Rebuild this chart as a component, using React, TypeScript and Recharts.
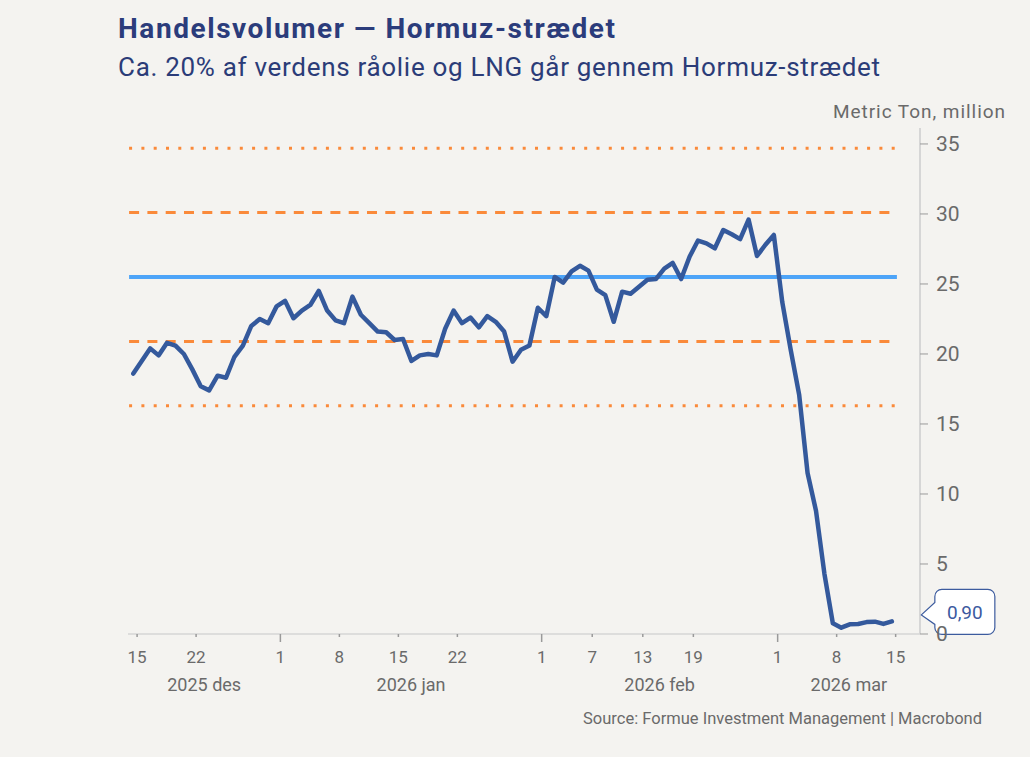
import React from 'react';
import {
  LineChart,
  Line,
  XAxis,
  YAxis,
  ReferenceLine,
  ReferenceDot,
} from 'recharts';

// daily volume, 15 Dec 2025 -> 15 Mar 2026 (metric ton, million)
const VOLUME = [
  18.6, 19.5, 20.4, 19.9, 20.8, 20.6, 20.0, 18.9, 17.7, 17.4,
  18.45, 18.3, 19.8, 20.6, 22.0, 22.5, 22.2, 23.4, 23.8, 22.55,
  23.1, 23.5, 24.5, 23.1, 22.4, 22.2, 24.1, 22.8, 22.2, 21.6,
  21.55, 21.0, 21.07, 19.5, 19.9, 20.0, 19.9, 21.8, 23.1, 22.2,
  22.6, 21.9, 22.7, 22.3, 21.6, 19.45, 20.3, 20.6, 23.3, 22.7,
  25.5, 25.1, 25.9, 26.3, 25.95, 24.6, 24.2, 22.3, 24.45, 24.3,
  24.8, 25.3, 25.35, 26.1, 26.5, 25.35, 26.95, 28.1, 27.9, 27.55,
  28.85, 28.55, 28.2, 29.6, 27.0, 27.8, 28.5, 23.7, 20.3, 17.1,
  11.5, 8.8, 4.3, 0.76, 0.45, 0.69, 0.71, 0.85, 0.88, 0.72,
  0.9,
];

// mean and +-1 / +-2 std dev bands
const MEAN = 25.5;
const SD1 = [20.9, 30.1];
const SD2 = [16.3, 34.7];

// x ticks: day index from 15 Dec
const DAY_TICKS = [0, 7, 17, 24, 31, 38, 48, 54, 60, 66, 76, 83, 90];
const DAY_LABELS = ['15', '22', '1', '8', '15', '22', '1', '7', '13', '19', '1', '8', '15'];
const MONTH_STARTS = [0, 17, 48, 76];
const MONTH_LABELS = ['2025 des', '2026 jan', '2026 feb', '2026 mar'];

const Y_TICKS = [0, 5, 10, 15, 20, 25, 30, 35];

const LAST_LABEL = '0,90';

const FONT = "Roboto, 'Noto Sans', sans-serif";
const BG = '#f4f3f0';
const NAVY = '#34599c';
const GREY = '#6a6a6a';
const ORANGE = '#fa8a3a';

const X_MIN = -0.63;
const X_MAX = 93.34;
const SHIFT = 0.45;

const data = VOLUME.map((v, i) => ({ i, v }));
const dayTickValues = DAY_TICKS.map((d) => d + SHIFT);
const monthBounds = MONTH_STARTS.map((d, k) => {
  const a = k === 0 ? X_MIN : d + SHIFT;
  const b = k + 1 < MONTH_STARTS.length ? MONTH_STARTS[k + 1] + SHIFT : X_MAX;
  return (a + b) / 2;
});

function DayTick(props: any) {
  const { x, y, index } = props;
  const monthStart = MONTH_STARTS.includes(DAY_TICKS[index]) && DAY_TICKS[index] !== 0;
  return (
    <g>
      <line x1={x} x2={x} y1={y} y2={y + (monthStart ? 8 : 3)} stroke="#9a9a9a" strokeWidth={1.5} />
      <text x={x} y={y + 29} textAnchor="middle" fontSize={17} fill={GREY} fontFamily={FONT}>
        {DAY_LABELS[index]}
      </text>
    </g>
  );
}

function MonthTick(props: any) {
  const { x, y, index } = props;
  return (
    <text x={x} y={y + 21} textAnchor="middle" fontSize={18} fill={GREY} fontFamily={FONT}>
      {MONTH_LABELS[index]}
    </text>
  );
}

function Callout(props: any) {
  const { cx, cy } = props;
  const L = cx + 43;
  const R = L + 60;
  const T = cy - 32;
  const B = T + 45;
  const r = 7;
  const d = [
    `M${L + r},${T}`,
    `H${R - r}`,
    `A${r},${r} 0 0 1 ${R},${T + r}`,
    `V${B - r}`,
    `A${r},${r} 0 0 1 ${R - r},${B}`,
    `H${L + r}`,
    `A${r},${r} 0 0 1 ${L},${B - r}`,
    `V${cy + 3}`,
    `L${cx + 29.5},${cy - 6.5}`,
    `L${L},${cy - 19}`,
    `V${T + r}`,
    `A${r},${r} 0 0 1 ${L + r},${T}`,
    'Z',
  ].join(' ');
  return (
    <g>
      <path d={d} fill="#ffffff" stroke="#3c5b9e" strokeWidth={1.2} />
      <text x={(L + R) / 2} y={cy - 2} textAnchor="middle" fontSize={19} fill="#3c5aa0" fontFamily={FONT}>
        {LAST_LABEL}
      </text>
    </g>
  );
}

const seg = (y: number) => [
  { x: -0.5, y },
  { x: 90.6, y },
];

export default function App() {
  return (
    <div style={{ position: 'relative', width: 1030, height: 757, background: BG }}>
      <style>{`body{margin:0;background:${BG}}`}</style>
      <LineChart
        width={1030}
        height={757}
        data={data}
        margin={{ top: 128, right: 0, left: 128, bottom: 57 }}
      >
        <XAxis
          dataKey="i"
          type="number"
          domain={[X_MIN, X_MAX]}
          ticks={dayTickValues}
          interval={0}
          height={36}
          tickSize={0}
          tickMargin={0}
          tick={<DayTick />}
          axisLine={{ stroke: '#d6d6d6', strokeWidth: 1.5 }}
        />
        <XAxis
          xAxisId="m"
          dataKey="i"
          type="number"
          domain={[X_MIN, X_MAX]}
          ticks={monthBounds}
          interval={0}
          height={30}
          tickSize={0}
          tickMargin={0}
          tick={<MonthTick />}
          axisLine={false}
          tickLine={false}
        />
        <YAxis
          orientation="right"
          type="number"
          domain={[0, 36.14]}
          ticks={Y_TICKS}
          interval={0}
          width={110}
          tickSize={8}
          tickMargin={8}
          tick={{ fontSize: 21, fill: GREY, fontFamily: FONT }}
          tickLine={{ stroke: '#9a9a9a' }}
          axisLine={{ stroke: '#d6d6d6', strokeWidth: 2 }}
        />
        <ReferenceLine segment={seg(SD2[1])} stroke={ORANGE} strokeWidth={3} strokeDasharray="3 9.3" />
        <ReferenceLine segment={seg(SD2[0])} stroke={ORANGE} strokeWidth={3} strokeDasharray="3 9.3" />
        <ReferenceLine segment={seg(SD1[1])} stroke={ORANGE} strokeWidth={3} strokeDasharray="10 8.3" />
        <ReferenceLine segment={seg(SD1[0])} stroke={ORANGE} strokeWidth={3} strokeDasharray="10 8.3" />
        <ReferenceLine segment={seg(MEAN)} stroke="#4da4f8" strokeWidth={4} />
        <Line
          type="linear"
          dataKey="v"
          stroke={NAVY}
          strokeWidth={4.5}
          strokeLinejoin="round"
          strokeLinecap="round"
          dot={false}
          activeDot={false}
          isAnimationActive={false}
        />
        <ReferenceDot x={90} y={VOLUME[VOLUME.length - 1]} r={0} shape={<Callout />} />
      </LineChart>
      <svg
        width={1030}
        height={757}
        style={{ position: 'absolute', left: 0, top: 0, pointerEvents: 'none' }}
      >
        <text x={118} y={37.5} fontSize={28} fontWeight={700} fill="#2b3c7b" fontFamily={FONT}
          textLength={497} lengthAdjust="spacing">
          Handelsvolumer — Hormuz-strædet
        </text>
        <text x={118} y={76} fontSize={26} fill="#2b3c78" fontFamily={FONT}
          textLength={762} lengthAdjust="spacing">
          Ca. 20% af verdens råolie og LNG går gennem Hormuz-strædet
        </text>
        <text x={833} y={118} fontSize={19} fill={GREY} fontFamily={FONT}
          textLength={172} lengthAdjust="spacing">
          Metric Ton, million
        </text>
        <text x={982} y={724} fontSize={16.5} fill={GREY} textAnchor="end" fontFamily={FONT}>
          Source: Formue Investment Management | Macrobond
        </text>
      </svg>
    </div>
  );
}
